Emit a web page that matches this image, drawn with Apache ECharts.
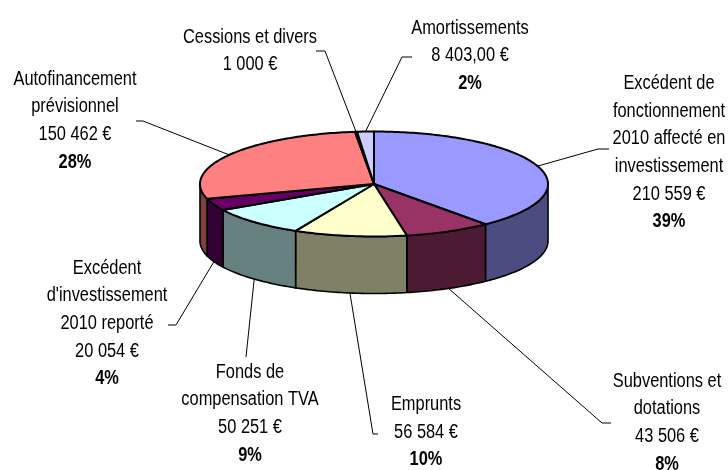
<!DOCTYPE html>
<html><head><meta charset="utf-8">
<script src="https://cdn.jsdelivr.net/npm/echarts@6/dist/echarts.min.js"></script>
<style>html,body{margin:0;padding:0;background:#fff}#c{width:728px;height:470px}</style>
</head><body><div id="c"></div>
<script>
// ---- data ----
const categories = [
  "Excédent de\nfonctionnement\n2010 affecté en\ninvestissement",
  "Subventions et\ndotations",
  "Emprunts",
  "Fonds de\ncompensation TVA",
  "Excédent\nd'investissement\n2010 reporté",
  "Autofinancement\nprévisionnel",
  "Cessions et divers",
  "Amortissements"
];
const values = [210559, 43506, 56584, 50251, 20054, 150462, 1000, 8403];
const valueLabels = ["210 559 €", "43 506 €", "56 584 €", "50 251 €", "20 054 €", "150 462 €", "1 000 €", "8 403,00 €"];
const topColors = ['#9999FF', '#993366', '#FFFFCC', '#CCFFFF', '#660066', '#FF8080', '#0066CC', '#CCCCFF'];
const sideColors = ['#4C4C80', '#4D1A33', '#808066', '#668080', '#330033', '#804040', '#003366', '#666680'];

// ---- layout ----
const PIE = { cx: 374, cy: 184, rx: 174, ry: 52.5, depth: 57 };
const LINE_H = 27.7;
// [centerX, firstLineY, attachX, attachY, elbowX, elbowY]
const labelLayout = [
  [669, 83.3, 609, 149, 598, 149],
  [667, 381, 611, 423, 602, 423],
  [426, 404.5, 378, 434, 373, 434],
  [250, 372, 246, 357, 246, 357],
  [107, 268, 168, 325, 176, 325],
  [75, 79, 136, 121, 143, 121],
  [250, 37, 316, 51, 325, 51],
  [470, 28, 412, 57, 402, 57]
];

function hasFont(f) {
  const c = document.createElement('canvas').getContext('2d');
  c.font = '40px monospace';
  const w0 = c.measureText('fonctionnement Wi').width;
  c.font = '40px "' + f + '", monospace';
  return Math.abs(c.measureText('fonctionnement Wi').width - w0) > 0.5;
}
const narrow = hasFont('Liberation Sans Narrow');
const FAMILY = narrow ? '"Liberation Sans Narrow"' : '"Liberation Sans", Arial';
const SX = narrow ? 1 : 0.82;
const FS = 20;

const total = values.reduce((a, b) => a + b, 0);
const starts = [];
values.reduce((acc, v) => { starts.push(acc); return acc + v / total * 360; }, 0);

function P(a, dy) {
  const r = a * Math.PI / 180;
  return [PIE.cx + PIE.rx * Math.sin(r), PIE.cy - PIE.ry * Math.cos(r) + (dy || 0)];
}
function arc(a0, a1, dy) {
  const n = Math.max(2, Math.ceil(Math.abs(a1 - a0) / 1));
  const out = [];
  for (let k = 0; k <= n; k++) out.push(P(a0 + (a1 - a0) * k / n, dy));
  return out;
}

function renderItem(params, api) {
  const i = params.dataIndex;
  const v = api.value(0);
  const a0 = starts[i], a1 = starts[i] + v / total * 360;
  const children = [];
  // top face
  const topPts = [[PIE.cx, PIE.cy]].concat(arc(a0, a1, 0));
  children.push({
    type: 'polygon', shape: { points: topPts }, z2: 10,
    style: { fill: topColors[i], stroke: '#000', lineWidth: 2, lineJoin: 'round' }
  });
  // side (front visible part)
  const s0 = Math.max(a0, 90), s1 = Math.min(a1, 270);
  if (s1 > s0) {
    const sidePts = arc(s0, s1, 0).concat(arc(s1, s0, PIE.depth));
    children.push({
      type: 'polygon', shape: { points: sidePts }, z2: 5,
      style: { fill: sideColors[i], stroke: '#000', lineWidth: 1.6, lineJoin: 'round' }
    });
  }
  // leader line
  const m = (a0 + a1) / 2;
  const front = Math.cos(m * Math.PI / 180) < 0;
  const end = P(m, front ? PIE.depth : 0);
  const L = labelLayout[i];
  children.push({
    type: 'polyline', z2: 20,
    shape: { points: [[L[2], L[3]], [L[4], L[5]], end] },
    style: { stroke: '#000', lineWidth: 1, fill: null }
  });
  // label text
  const lines = categories[i].split('\n').map(t => ({ t, b: false }));
  lines.push({ t: valueLabels[i], b: false });
  const pct = Math.round(v / total * 100);
  if (pct > 0) lines.push({ t: pct + '%', b: true });
  lines.forEach((ln, k) => {
    children.push({
      type: 'text', z2: 30, x: L[0], y: L[1] + k * LINE_H, scaleX: SX,
      style: {
        text: ln.t, fill: '#000',
        font: (ln.b ? 'bold ' : '') + FS + 'px ' + FAMILY,
        align: 'center', verticalAlign: 'middle',
        textAlign: 'center', textVerticalAlign: 'middle'
      }
    });
  });
  return { type: 'group', children };
}

const chart = echarts.init(document.getElementById('c'), null, { renderer: 'canvas' });
chart.setOption({
  backgroundColor: '#ffffff',
  animation: false,
  series: [{
    type: 'custom',
    coordinateSystem: 'none',
    silent: true,
    renderItem: renderItem,
    data: values.map((v, i) => ({ value: [v], name: categories[i] }))
  }]
});
</script>
</body></html>
